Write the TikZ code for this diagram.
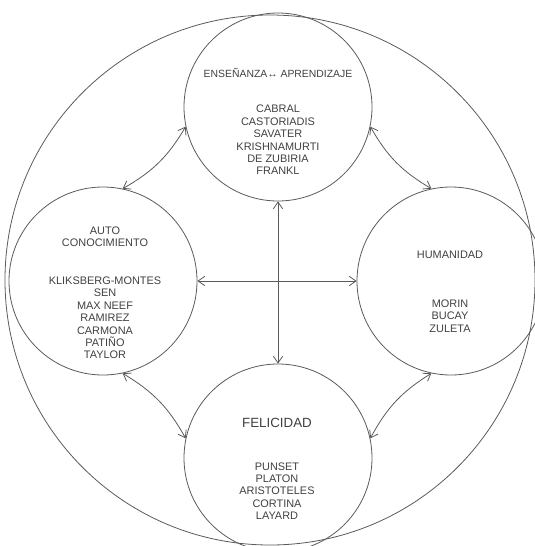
\documentclass[tikz,border=0pt]{standalone}
\usepackage{fontspec,xcolor}
\setmainfont{Liberation Sans}
\usetikzlibrary{arrows.meta}
\definecolor{trazo}{HTML}{5A5A5A}
\definecolor{letra}{HTML}{404040}

\begin{document}
\begin{tikzpicture}[x=0.75pt,y=-0.75pt,
		eje/.style={draw=trazo,circle,line width=0.6pt,minimum size=141pt,inner sep=0pt},
		texto/.style={text=letra,align=center,inner sep=0pt,font=\fontsize{8.2}{9.3}\selectfont},
		flecha/.style={trazo,line width=0.6pt,{Straight Barb[length=5pt,width=7pt]}-{Straight Barb[length=5pt,width=7pt]}}]
		\useasboundingbox (0,0) rectangle (535,546);
		\clip (0,0) rectangle (535,546);
		\node[eje,minimum size=397.5pt] (marco) at (270,280) {};
		\node[eje] (ens) at (278,107) {};
		\node[eje] (auto) at (103,281) {};
		\node[eje] (hum) at (451,281) {};
		\node[eje] (fel) at (278,458) {};
		\node[texto,font=\fontsize{7.8}{9.3}\selectfont] (tens) at (278,73) {ENSEÑANZA↔ APRENDIZAJE};
		\node[texto] (nens) at (278,140) {CABRAL\\CASTORIADIS\\SAVATER\\KRISHNAMURTI\\DE ZUBIRIA\\FRANKL};
		\node[texto] (tauto) at (105,237) {AUTO\\CONOCIMIENTO};
		\node[texto] (nauto) at (105,318) {KLIKSBERG-MONTES\\SEN\\MAX NEEF\\RAMIREZ\\CARMONA\\PATIÑO\\TAYLOR};
		\node[texto] (thum) at (450,255) {HUMANIDAD};
		\node[texto] (nhum) at (450,316) {MORIN\\BUCAY\\ZULETA};
		\node[texto,font=\fontsize{10}{12}\selectfont] (tfel) at (277,423) {FELICIDAD};
		\node[texto] (nfel) at (277,491) {PUNSET\\PLATON\\ARISTOTELES\\CORTINA\\LAYARD};
		\draw[flecha] (auto.east) to (hum.west);
		\draw[flecha] (ens.south) to (fel.north);
		\draw[flecha] (auto.78) to[bend right=15] (ens.192);
		\draw[flecha] (ens.348) to[bend right=15] (hum.102);
		\draw[flecha] (auto.282) to[bend left=15] (fel.168);
		\draw[flecha] (fel.12) to[bend left=15] (hum.258);
	\end{tikzpicture}
\end{document}
